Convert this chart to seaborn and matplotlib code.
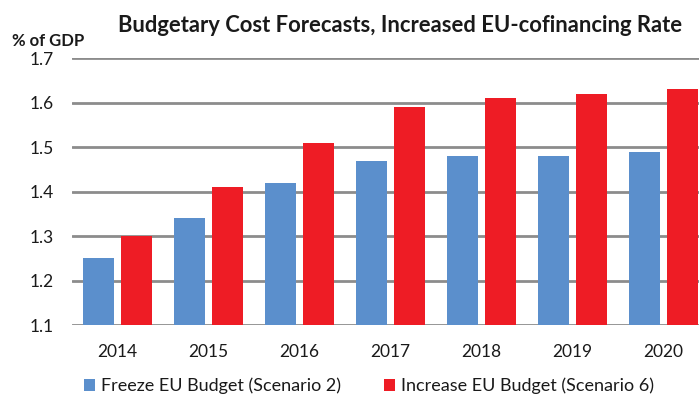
import numpy as np
import pandas as pd
import matplotlib
matplotlib.use('Agg')
import matplotlib.pyplot as plt
import seaborn as sns

years = ['2014', '2015', '2016', '2017', '2018', '2019', '2020']
freeze = [1.25, 1.34, 1.42, 1.47, 1.48, 1.48, 1.49]
increase = [1.30, 1.41, 1.51, 1.59, 1.61, 1.62, 1.63]
series_names = ['Freeze EU Budget (Scenario 2)', 'Increase EU Budget (Scenario 6)']
yticks = [1.1, 1.2, 1.3, 1.4, 1.5, 1.6, 1.7]

df = pd.DataFrame({
    'year': years * 2,
    'value': freeze + increase,
    'scenario': [series_names[0]] * len(years) + [series_names[1]] * len(years),
})

sns.set_theme(style='white')
plt.rcParams['font.family'] = ['Lato', 'DejaVu Sans']

fig = plt.figure(figsize=(6.99, 4.04), dpi=100)
# axes spans slightly past the right edge, like the cropped original
ax = fig.add_axes([72 / 699, 79 / 404, 637 / 699, 266.7 / 404])

sns.barplot(data=df, x='year', y='value', hue='scenario', ax=ax,
            palette=['#5B8FCC', '#EE1C25'], width=0.836, gap=0.21,
            saturation=1, edgecolor='none', linewidth=0)

ax.set_ylim(1.1, 1.7)
ax.set_xlim(-0.5, 6.5)
ax.set_yticks(yticks)
ax.set_yticklabels([f'{t:.1f}' for t in yticks])
ax.yaxis.grid(True, color='#8c8c8c', linewidth=2)
ax.set_axisbelow(True)
for s in ax.spines.values():
    s.set_visible(False)
ax.tick_params(axis='y', length=0, pad=13, labelsize=12.5, colors='#1a1a1a')
ax.tick_params(axis='x', length=0, pad=14, labelsize=12.5, colors='#1a1a1a')
ax.set_xlabel('')
ax.set_ylabel('')

handles, labels = ax.get_legend_handles_labels()
ax.get_legend().remove()
fig.legend(handles, labels, loc='center', bbox_to_anchor=(0.528, 18 / 404), ncol=2,
           frameon=False, fontsize=13, handlelength=0.6, handleheight=0.6,
           handletextpad=0.35, columnspacing=2.4, labelcolor='#1a1a1a')

fig.text(400 / 699, 1 - 25 / 404, 'Budgetary Cost Forecasts, Increased EU-cofinancing Rate',
         ha='center', va='center', fontsize=15.8, fontweight='bold', color='#1a1a1a')
fig.text(12 / 699, 1 - 41 / 404, '% of GDP', ha='left', va='center',
         fontsize=12, fontweight='bold', color='#1a1a1a')

fig.savefig('out.png', dpi=100)
